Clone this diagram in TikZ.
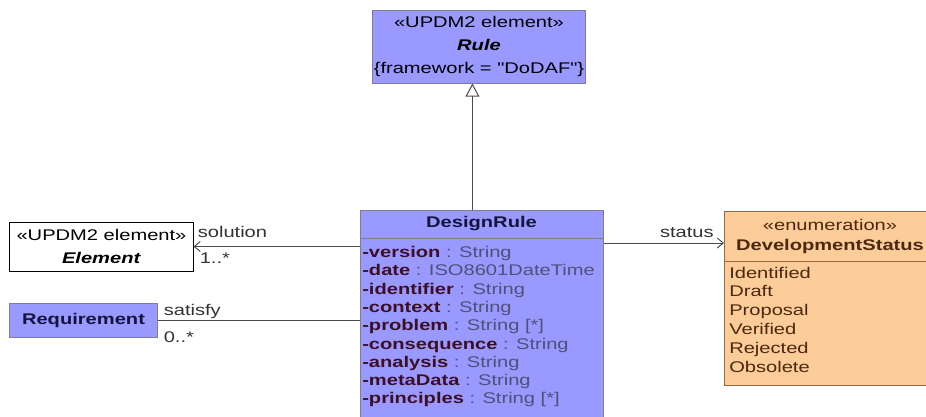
\documentclass[tikz,border=0pt]{standalone}
\usepackage{fontspec}
\setmainfont{Liberation Sans}[FakeStretch=1.3, Ligatures=TeXOff]
\usepackage{xcolor}
\definecolor{umlpurple}{RGB}{153,153,255}
\definecolor{umlorange}{RGB}{252,204,153}
\definecolor{umlborder}{RGB}{125,125,140}
\definecolor{umlbrown}{RGB}{150,105,70}
\definecolor{umlline}{RGB}{75,75,75}
\definecolor{umlnavy}{RGB}{20,20,60}
\definecolor{attrname}{RGB}{60,15,35}
\definecolor{attrtype}{RGB}{80,80,120}
\definecolor{enumtext}{RGB}{75,40,15}
\usepackage{tikz}
\usetikzlibrary{arrows.meta, positioning}

\begin{document}
\begin{tikzpicture}[x=0.025cm, y=-0.025cm,
  umltext/.style={font=\fontsize{11}{16.6}\selectfont, inner sep=0pt},
  classbox/.style={umltext, draw=umlborder, fill=umlpurple, line width=0.7pt, align=center, text=umlnavy},
  plainbox/.style={umltext, draw=black, fill=white, line width=0.7pt, align=center},
  enumbox/.style={umltext, draw=umlbrown, fill=umlorange, line width=0.7pt},
  lbl/.style={umltext, text=black!80},
  assoc/.style={umlline, line width=0.7pt, -{Straight Barb[length=0.15cm, width=0.25cm]}},
  gen/.style={umlline, line width=0.7pt, -{Triangle[open, length=0.33cm, width=0.35cm]}}]

% --- frame ---
\useasboundingbox (0,0) rectangle (926,416);
\clip (0,0) rectangle (926,416);

% --- Rule (top) ---
\node[classbox, text=black, minimum width=5.3cm, minimum height=1.825cm] (rule) at (479,46.5)
      {«UPDM2 element»\\\textbf{\textit{Rule}}\\\{framework = "DoDAF"\}};

% --- DesignRule (centre) ---
\node[classbox, anchor=north west, minimum width=6.075cm, minimum height=5.5cm] (designrule) at (360,210) {};
\node[umltext, text=umlnavy] (drname) at (481.5,224) {\textbf{DesignRule}};
\draw[umlborder, line width=0.7pt] ([yshift=-0.7cm]designrule.north west) -- ([yshift=-0.7cm]designrule.north east);
\foreach \nm/\ty [count=\i] in {version/String, date/ISO8601DateTime, identifier/String,
    context/String, problem/{String [*]}, consequence/String, analysis/String,
    metaData/String, principles/{String [*]}}
  \node[umltext, text=attrtype, anchor=base west] (attr\i) at (362,{257.5+(\i-1)*18.3})
      {\textcolor{attrname}{\bfseries -\nm} : \ty};

% --- Element (left) ---
\node[plainbox, minimum width=4.575cm, minimum height=1.225cm] (element) at (101.5,246.5)
      {«UPDM2 element»\\[-0.6pt]\textbf{\textit{Element}}};

% --- Requirement (left) ---
\node[classbox, minimum width=3.675cm, minimum height=0.85cm] (requirement) at (83.5,320)
      {\textbf{Requirement}};

% --- DevelopmentStatus (right) ---
\node[enumbox, anchor=north west, minimum width=5.3cm, minimum height=4.35cm] (devstatus) at (724,211) {};
\node[umltext, text=enumtext] (stereo) at (830,225) {«enumeration»};
\node[umltext, text=enumtext] (dsname) at (830,246.7) {\textbf{DevelopmentStatus}};
\draw[umlbrown, line width=0.7pt] ([yshift=-1.25cm]devstatus.north west) -- ([yshift=-1.25cm]devstatus.north east);
\foreach \lit [count=\i] in {Identified, Draft, Proposal, Verified, Rejected, Obsolete}
  \node[umltext, text=enumtext, anchor=base west] (lit\i) at (729,{278+(\i-1)*18.8}) {\lit};

% --- Generalization ---
\coordinate (genfoot) at ([xshift=-0.24cm]designrule.north);
\draw[gen] (genfoot) -- (genfoot |- rule.south);

% --- Associations ---
\draw[assoc] (designrule.west |- element.east) -- (element.east);
\node[lbl, anchor=base west] (sollbl) at ([xshift=0.1cm, yshift=0.22cm]element.east) {solution};
\node[lbl, anchor=base west] (solmult) at ([xshift=0.15cm, yshift=-0.43cm]element.east) {1..*};

\draw[umlline, line width=0.7pt] (requirement.east) -- (requirement.east -| designrule.west);
\node[lbl, anchor=base west] (satlbl) at ([xshift=0.15cm, yshift=0.11cm]requirement.east) {satisfy};
\node[lbl, anchor=base west] (satmult) at ([xshift=0.15cm, yshift=-0.56cm]requirement.east) {0..*};

\coordinate (stend) at ([yshift=-0.8cm]devstatus.north west);
\draw[assoc] (designrule.east |- stend) -- (stend);
\node[lbl, anchor=base east] (stlbl) at ([xshift=-0.25cm, yshift=0.14cm]stend) {status};

\end{tikzpicture}
\end{document}
